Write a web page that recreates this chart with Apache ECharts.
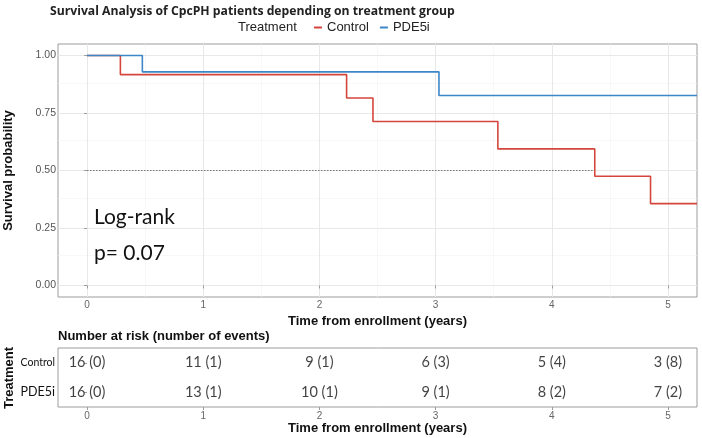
<!DOCTYPE html>
<html><head><meta charset="utf-8">
<script src="https://cdn.jsdelivr.net/npm/echarts@6/dist/echarts.min.js"></script>
<style>html,body{margin:0;padding:0;background:#fff}#c{width:702px;height:438px}</style>
</head><body><div id="c"></div>
<script>
// ---- data ----
const controlTimes = [0, 0.287, 2.234, 2.461, 3.536, 4.370, 4.850, 5.25];
const controlSurv  = [1, 0.917, 0.815, 0.713, 0.594, 0.475, 0.356, 0.356];
const pde5iTimes   = [0, 0.476, 3.029, 5.25];
const pde5iSurv    = [1, 0.929, 0.826, 0.826];
const medianTime   = 4.37;
const medianLevel  = 0.5;
const xTicks = [0, 1, 2, 3, 4, 5];
const xMinor = [0.5, 1.5, 2.5, 3.5, 4.5];
const yTicks = [0, 0.25, 0.5, 0.75, 1];
const yMinor = [0.125, 0.375, 0.625, 0.875];
const groups = ['PDE5i', 'Control'];
const riskTimes     = [0, 1, 2, 3, 4, 5];
const controlAtRisk = [16, 11, 9, 6, 5, 3];
const controlEvents = [0, 1, 1, 3, 4, 8];
const pde5iAtRisk   = [16, 13, 10, 9, 8, 7];
const pde5iEvents   = [0, 1, 1, 1, 2, 2];

const RED = '#d4463c', BLUE = '#3d86c8';
const FF = '"Liberation Sans", Arial, sans-serif';
const zip = (a, b) => a.map((v, i) => [v, b[i]]);

const chart = echarts.init(document.getElementById('c'), null, {renderer: 'canvas'});

const gridLines = [
  ...xMinor.map(v => ({xAxis: v, lineStyle: {color: '#f3f3f3', width: 0.6, type: 'solid'}})),
  ...yMinor.map(v => ({yAxis: v, lineStyle: {color: '#f3f3f3', width: 0.6, type: 'solid'}})),
  ...xTicks.map(v => ({xAxis: v, lineStyle: {color: '#e8e8e8', width: 1, type: 'solid'}})),
  ...yTicks.map(v => ({yAxis: v, lineStyle: {color: '#e8e8e8', width: 1, type: 'solid'}}))
];

const riskSeries = (name, atRisk, events) => ({
  type: 'scatter', xAxisIndex: 1, yAxisIndex: 1, symbolSize: 0, silent: true, z: 3,
  data: riskTimes.map((t, i) => [t, name, atRisk[i] + ' (' + events[i] + ')']),
  label: {show: true, position: 'inside', formatter: p => p.data[2],
          fontFamily: 'Lato, sans-serif', fontSize: 14.5, color: '#111'}
});

chart.setOption({
  animation: false,
  title: {text: 'Survival Analysis of CpcPH patients depending on treatment group',
          left: 45, top: 1,
          textStyle: {fontFamily: '"Open Sans", sans-serif', fontWeight: 'bold', fontSize: 12.2, color: '#222'}},
  legend: {data: ['Control', 'PDE5i'], left: 309, top: 16, icon: 'rect', itemWidth: 8, itemHeight: 2,
           itemGap: 11, textStyle: {fontFamily: FF, fontSize: 13, color: '#222'}},
  graphic: [
    {type: 'text', left: 238, top: 21, z: 10, style: {text: 'Treatment', font: '13px ' + FF, fill: '#222'}},
    {type: 'text', left: 94, top: 207, z: 10,
     style: {text: 'Log-rank\n\np= 0.07', font: '21px Lato, sans-serif', fill: '#111', lineHeight: 18}},
    {type: 'text', left: 58, top: 330, z: 10,
     style: {text: 'Number at risk (number of events)', font: 'bold 13px ' + FF, fill: '#111'}},
    {type: 'text', x: 9, y: 378, rotation: Math.PI / 2, z: 10,
     style: {text: 'Treatment', font: 'bold 13px ' + FF, fill: '#111', align: 'center', verticalAlign: 'middle'}}
  ],
  grid: [
    {left: 58, right: 5, top: 44, bottom: 141, outerBoundsMode: 'none', containLabel: false,
     show: true, borderColor: '#9c9c9c', borderWidth: 1, backgroundColor: '#fff'},
    {left: 58, right: 5, top: 348, bottom: 31, outerBoundsMode: 'none', containLabel: false,
     show: true, borderColor: '#9c9c9c', borderWidth: 1, backgroundColor: '#fff'}
  ],
  xAxis: [
    {type: 'value', gridIndex: 0, min: -0.25, max: 5.25,
     axisLine: {show: false}, splitLine: {show: false},
     axisTick: {show: true, length: 3, customValues: xTicks, lineStyle: {color: '#9c9c9c'}},
     axisLabel: {customValues: xTicks, fontFamily: FF, fontSize: 10, color: '#666', margin: 3},
     name: 'Time from enrollment (years)', nameLocation: 'middle', nameGap: 14,
     nameTextStyle: {fontFamily: FF, fontWeight: 'bold', fontSize: 13, color: '#111'}},
    {type: 'value', gridIndex: 1, min: -0.25, max: 5.25,
     axisLine: {show: false}, splitLine: {show: false},
     axisTick: {show: true, length: 3, customValues: xTicks, lineStyle: {color: '#9c9c9c'}},
     axisLabel: {customValues: xTicks, fontFamily: FF, fontSize: 10, color: '#666', margin: 4},
     name: 'Time from enrollment (years)', nameLocation: 'middle', nameGap: 12,
     nameTextStyle: {fontFamily: FF, fontWeight: 'bold', fontSize: 13, color: '#111'}}
  ],
  yAxis: [
    {type: 'value', gridIndex: 0, min: -0.05, max: 1.05,
     axisLine: {show: false}, splitLine: {show: false},
     axisTick: {show: true, length: 3, customValues: yTicks, lineStyle: {color: '#9c9c9c'}},
     axisLabel: {customValues: yTicks, formatter: v => v.toFixed(2), fontFamily: FF, fontSize: 10.5, color: '#555', margin: 2},
     name: 'Survival probability', nameLocation: 'middle', nameGap: 43,
     nameTextStyle: {fontFamily: FF, fontWeight: 'bold', fontSize: 13, color: '#111'}},
    {type: 'category', gridIndex: 1, data: [
       {value: groups[0], textStyle: {fontSize: 12.5}},
       {value: groups[1], textStyle: {fontSize: 10.5}}],
     axisLine: {show: false}, splitLine: {show: false},
     axisTick: {show: true, length: 3, alignWithLabel: true, lineStyle: {color: '#9c9c9c'}},
     axisLabel: {fontFamily: 'Lato, sans-serif', color: '#111', margin: 3}}
  ],
  series: [
    {type: 'line', name: 'grid', xAxisIndex: 0, yAxisIndex: 0, data: [], z: 0, silent: true,
     markLine: {silent: true, z: 0, symbol: ['none', 'none'], label: {show: false}, animation: false, data: gridLines}},
    {type: 'line', name: 'median', xAxisIndex: 0, yAxisIndex: 0, showSymbol: false, silent: true, z: 1,
     data: [[0, medianLevel], [medianTime, medianLevel]],
     lineStyle: {color: '#777', width: 1, type: [1.5, 1.5]}},
    {type: 'line', name: 'Control', xAxisIndex: 0, yAxisIndex: 0, step: 'end', showSymbol: false, z: 3,
     data: zip(controlTimes, controlSurv), itemStyle: {color: RED}, lineStyle: {color: RED, width: 1.6}},
    {type: 'line', name: 'PDE5i', xAxisIndex: 0, yAxisIndex: 0, step: 'end', showSymbol: false, z: 3,
     data: zip(pde5iTimes, pde5iSurv), itemStyle: {color: BLUE}, lineStyle: {color: BLUE, width: 1.6}},
    riskSeries('Control', controlAtRisk, controlEvents),
    riskSeries('PDE5i', pde5iAtRisk, pde5iEvents)
  ]
});
</script></body></html>
